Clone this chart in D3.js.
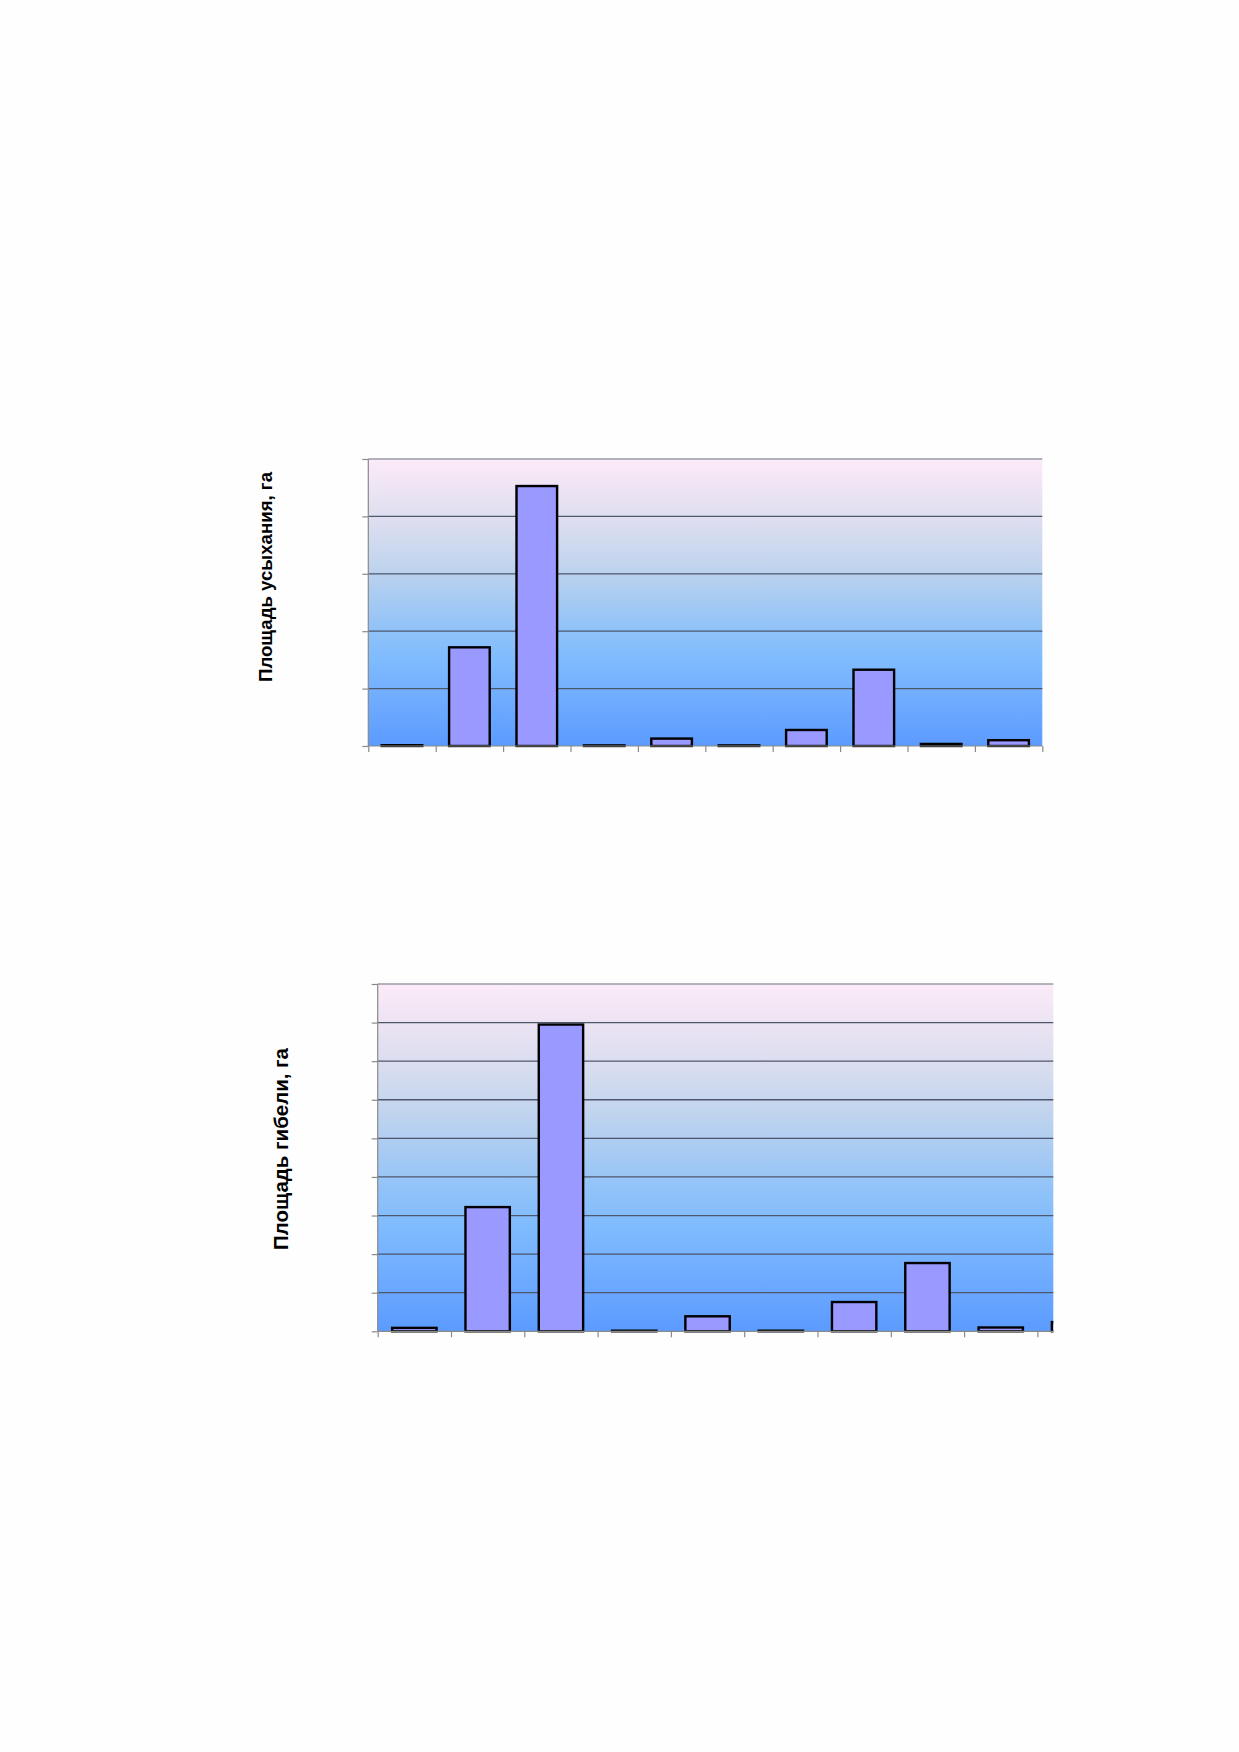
<!DOCTYPE html>
<html>
<head>
<meta charset="utf-8">
<script src="https://cdn.jsdelivr.net/npm/d3@7"></script>
<style>
  html, body { margin: 0; padding: 0; background: #fefefe; }
  svg { display: block; }
</style>
</head>
<body>
<svg id="chart" width="1239" height="1752"></svg>
<script>
// ---- data ----
const categories = ["1", "2", "3", "4", "5", "6", "7", "8", "9", "10"];
const dryingValues = [3.5, 174, 455, 1, 15, 0.8, 30, 135, 5.7, 12.2];      // Площадь усыхания, га
const dryingTicks = [0, 100, 200, 300, 400, 500];
const deathValues = [12, 325, 798, 2, 42, 2.5, 79, 180, 13, 27];           // Площадь гибели, га
const deathTicks = [0, 100, 200, 300, 400, 500, 600, 700, 800, 900];

const svg = d3.select("#chart");
const defs = svg.append("defs");

const grad = defs.append("linearGradient")
  .attr("id", "bg").attr("x1", 0).attr("y1", 0).attr("x2", 0).attr("y2", 1);
[[0, "#fcebf8"], [0.12, "#ebe3f3"], [0.24, "#d9ddef"], [0.36, "#c3d5ee"],
 [0.48, "#a9cbf2"], [0.6, "#8fc2f9"], [0.7, "#7fbbfe"], [0.82, "#72aeff"], [1, "#5b9bff"]]
  .forEach(([o, c]) => grad.append("stop").attr("offset", o).attr("stop-color", c));

function drawChart(cfg) {
  const { left, top, width, height, step, values, ticks, label, labelX, labelY, labelSize, labelLen, id } = cfg;
  const g = svg.append("g");

  defs.append("clipPath").attr("id", id)
    .append("rect").attr("x", left).attr("y", top - 2).attr("width", width).attr("height", height + 4);

  const x = d3.scaleBand().domain(categories)
    .range([left, left + step * categories.length])
    .paddingInner(0.362).paddingOuter(0.181);
  const y = d3.scaleLinear().domain([0, d3.max(ticks)]).range([top + height, top]);

  // background
  g.append("rect").attr("x", left).attr("y", top).attr("width", width).attr("height", height)
    .attr("fill", "url(#bg)");

  // gridlines
  g.append("g").selectAll("line").data(ticks.slice(1)).join("line")
    .attr("x1", left).attr("x2", left + width)
    .attr("y1", d => y(d)).attr("y2", d => y(d))
    .attr("stroke", (d, i, a) => i === a.length - 1 ? "#9a9aa6" : "#4e566c")
    .attr("stroke-width", 1.3);

  // bars
  g.append("g").attr("clip-path", `url(#${id})`)
    .selectAll("rect").data(values).join("rect")
    .attr("x", (d, i) => x(categories[i]) + 1.2)
    .attr("width", x.bandwidth() - 2.4)
    .attr("y", d => Math.min(y(d) + 1.2, y(0) - 0.6))
    .attr("height", d => Math.max(0.6, y(0) - y(d) - 1.2))
    .attr("fill", "#9999ff")
    .attr("stroke", "#000")
    .attr("stroke-width", 2.4);

  // left axis
  const yAxis = d3.axisLeft(y).tickValues(ticks).tickSize(6).tickFormat("");
  g.append("g").attr("transform", `translate(${left},0)`).call(yAxis)
    .call(s => s.selectAll("line, path").attr("stroke", "#8a8a8a").attr("stroke-width", 1.2))
    .call(s => s.select(".domain").attr("d", `M0,${top + height}V${top}`));

  // bottom axis
  const bx = d3.scaleLinear().domain([0, categories.length]).range([left, left + step * categories.length]);
  const tickIdx = d3.range(0, categories.length + 1).filter(i => bx(i) <= left + width + 0.5);
  const xAxis = d3.axisBottom(bx).tickValues(tickIdx).tickSize(6).tickFormat("");
  g.append("g").attr("transform", `translate(0,${top + height})`).call(xAxis)
    .call(s => s.selectAll("line, path").attr("stroke", "#8a8a8a").attr("stroke-width", 1.2))
    .call(s => s.select(".domain").attr("d", `M${left},0H${left + width}`));

  // axis title
  g.append("text")
    .attr("transform", `translate(${labelX},${labelY}) rotate(-90)`)
    .attr("text-anchor", "middle")
    .attr("font-family", "'Liberation Sans', Arial, sans-serif")
    .attr("font-weight", "bold")
    .attr("font-size", labelSize)
    .attr("textLength", labelLen)
    .attr("lengthAdjust", "spacingAndGlyphs")
    .attr("fill", "#000")
    .text(label);
}

drawChart({
  id: "clip1", left: 368.3, top: 459, width: 674, height: 287, step: 67.4,
  values: dryingValues, ticks: dryingTicks,
  label: "Площадь усыхания, га", labelX: 272, labelY: 577, labelSize: 18.5, labelLen: 210
});

drawChart({
  id: "clip2", left: 377.7, top: 984, width: 675.6, height: 347.3, step: 73.3,
  values: deathValues, ticks: deathTicks,
  label: "Площадь гибели, га", labelX: 287.5, labelY: 1149, labelSize: 20.5, labelLen: 202
});
</script>
</body>
</html>
